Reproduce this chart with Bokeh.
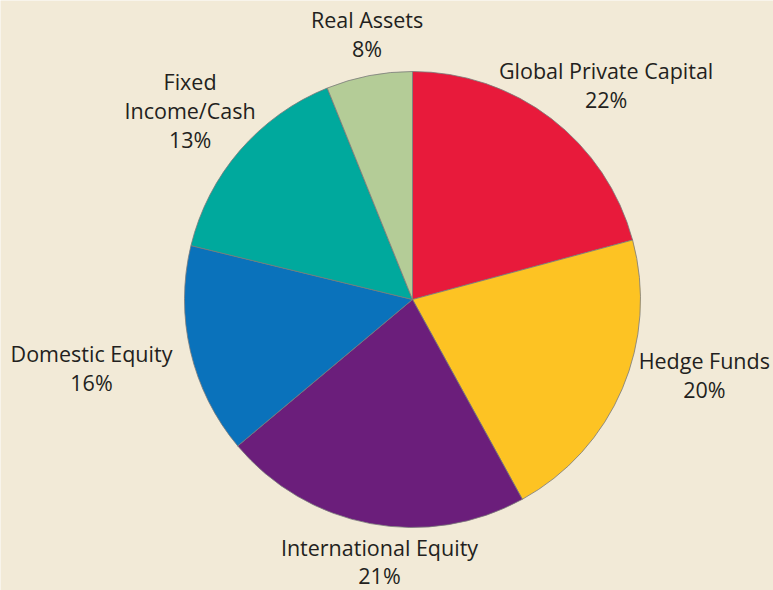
import math
from bokeh.plotting import figure
from bokeh.models import ColumnDataSource, Range1d
from bokeh.core.properties import value
from bokeh.embed import file_html
from bokeh.resources import INLINE

# ---- data ----
categories = ["Global Private Capital", "Hedge Funds", "International Equity",
              "Domestic Equity", "Fixed Income/Cash", "Real Assets"]
# slice shares as drawn in the picture (percent)
shares = [20.8, 21.2, 21.9, 14.9, 15.1, 6.1]
# printed label percentages
pct_labels = ["22%", "20%", "21%", "16%", "13%", "8%"]
label_lines = [["Global Private Capital"], ["Hedge Funds"], ["International Equity"],
               ["Domestic Equity"], ["Fixed", "Income/Cash"], ["Real Assets"]]
colors = ["#e81a3b", "#fdc323", "#6b1e7b", "#0a72bb", "#00a99d", "#b4cc97"]

# ---- layout ----
BG = "#f2ead7"
W, H = 773, 590
CX, CY, R = 412, H - 299, 228
LINE_GAP = 29
# offset of each label block (first baseline, centre) from slice mid-point on rim
label_offsets = [(55, 48), (82, 28), (9, -24), (-99, -2), (-50, 69), (-2, 56)]
line_gaps = [LINE_GAP, LINE_GAP, 28, LINE_GAP, LINE_GAP, LINE_GAP]

total = sum(shares)
starts, ends, mids = [], [], []
cum = 0.0
for s in shares:
    a0 = math.pi / 2 - 2 * math.pi * cum / total
    cum += s
    a1 = math.pi / 2 - 2 * math.pi * cum / total
    starts.append(a0)
    ends.append(a1)
    mids.append((a0 + a1) / 2)

p = figure(width=W, height=H, output_backend="svg", toolbar_location=None,
           x_range=Range1d(0, W), y_range=Range1d(0, H),
           min_border=0, outline_line_color=None,
           background_fill_color=BG, border_fill_color=BG)
p.axis.visible = False
p.grid.visible = False

src = ColumnDataSource(dict(start=starts, end=ends, color=colors, cat=categories))
p.wedge(x=CX, y=CY, radius=R, start_angle="start", end_angle="end",
        direction="clock", fill_color="color", line_color="#7a7a7a",
        line_width=0.8, source=src)

xs, ys, txt = [], [], []
for lines, pct, m, (dx, dy), gap in zip(label_lines, pct_labels, mids,
                                        label_offsets, line_gaps):
    rx = CX + R * math.cos(m)
    ry = CY + R * math.sin(m)
    bx, by = rx + dx, ry + dy
    for i, t in enumerate(lines + [pct]):
        xs.append(bx)
        ys.append(by - i * gap)
        txt.append(t)

p.text(x=xs, y=ys, text=txt, text_align="center", text_baseline="alphabetic",
       text_font=value("Open Sans"), text_font_size="21.5px", text_color="#231f20")

open("out.html", "w").write(file_html(p, INLINE))
